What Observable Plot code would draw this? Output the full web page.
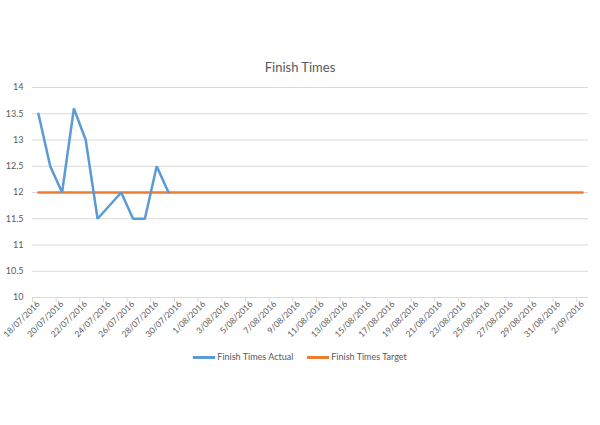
<!DOCTYPE html>
<html>
<head>
<meta charset="utf-8">
<script src="https://cdn.jsdelivr.net/npm/d3@7"></script>
<script src="https://cdn.jsdelivr.net/npm/@observablehq/plot@0.6"></script>
<style>
  html, body { margin: 0; padding: 0; background: #fff; }
  #wrap { width: 600px; height: 425px; position: relative; font-family: Lato, "Open Sans", sans-serif; color: #595959; }
  #title { height: 16px; line-height: 16px; padding-top: 59px; text-align: center; font-size: 13px; }
  #chart svg { display: block; }
  #legend { margin-top: 0px; height: 14px; line-height: 14px; display: flex; justify-content: center; gap: 14px; font-size: 9px; }
  .item { display: flex; align-items: center; }
  .sw { width: 22px; height: 3px; margin-right: 2px; }
</style>
</head>
<body>
<div id="wrap">
  <div id="title">Finish Times</div>
  <div id="chart"></div>
  <div id="legend"></div>
</div>
<script>
// Data
const actualDates = ["2016-07-18","2016-07-19","2016-07-20","2016-07-21","2016-07-22","2016-07-23","2016-07-25","2016-07-26","2016-07-27","2016-07-28","2016-07-29"];
const actualValues = [13.5, 12.5, 12, 13.6, 13, 11.5, 12, 11.5, 11.5, 12.5, 12];
const targetDates = ["2016-07-18","2016-09-02"];
const targetValues = [12, 12];
const xLabelDates = ["2016-07-18","2016-07-20","2016-07-22","2016-07-24","2016-07-26","2016-07-28","2016-07-30","2016-08-01","2016-08-03","2016-08-05","2016-08-07","2016-08-09","2016-08-11","2016-08-13","2016-08-15","2016-08-17","2016-08-19","2016-08-21","2016-08-23","2016-08-25","2016-08-27","2016-08-29","2016-08-31","2016-09-02"];
const yTicks = [10, 10.5, 11, 11.5, 12, 12.5, 13, 13.5, 14];
const seriesNames = ["Finish Times Actual", "Finish Times Target"];
const seriesColors = ["#5b9bd5", "#ed7d31"];

const parse = s => new Date(s + "T00:00:00Z");
const DAY = 864e5;
const actual = actualDates.map((d, i) => ({date: parse(d), value: actualValues[i]}));
const target = targetDates.map((d, i) => ({date: parse(d), value: targetValues[i]}));
const labelDates = xLabelDates.map(parse);
const tickDates = labelDates.map(d => new Date(+d - DAY / 2));
const fmt = d => `${d.getUTCDate()}/${String(d.getUTCMonth() + 1).padStart(2, "0")}/${d.getUTCFullYear()}`;

const chart = Plot.plot({
  width: 600,
  height: 275,
  marginLeft: 32,
  marginRight: 12,
  marginTop: 12,
  marginBottom: 53,
  style: {fontFamily: "Lato, 'Open Sans', sans-serif", fontSize: "9px", color: "#595959", background: "#fff", overflow: "visible"},
  x: {type: "utc", domain: [new Date(+labelDates[0] - DAY / 2), new Date(+labelDates[labelDates.length - 1] + DAY / 2)]},
  y: {domain: [10, 14]},
  marks: [
    Plot.ruleY(yTicks, {stroke: "#d9d9d9", strokeWidth: 1}),
    Plot.axisY({ticks: yTicks, tickSize: 0, tickPadding: 9, tickFormat: d => String(d), label: null, color: "#595959"}),
    Plot.axisX({ticks: tickDates, tickSize: 5, tickFormat: () => "", label: null, stroke: "#d9d9d9"}),
    Plot.axisX({ticks: labelDates, tickSize: 0, tickPadding: 5, tickRotate: -45, tickFormat: fmt, label: null, color: "#595959", fontSize: 8.5}),
    Plot.line(target, {x: "date", y: "value", stroke: seriesColors[1], strokeWidth: 2.5}),
    Plot.line(actual, {x: "date", y: "value", stroke: seriesColors[0], strokeWidth: 2.5, strokeLinejoin: "miter"})
  ]
});
document.getElementById("chart").appendChild(chart);

const legend = document.getElementById("legend");
seriesNames.forEach((n, i) => {
  const it = document.createElement("div");
  it.className = "item";
  it.innerHTML = `<span class="sw" style="background:${seriesColors[i]}"></span><span>${n}</span>`;
  legend.appendChild(it);
});
</script>
</body>
</html>
